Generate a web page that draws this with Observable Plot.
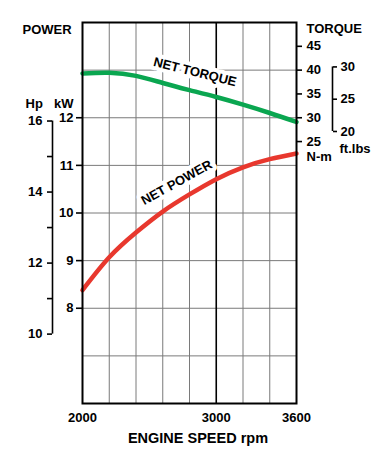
<!DOCTYPE html>
<html><head><meta charset="utf-8">
<script src="https://cdn.jsdelivr.net/npm/d3@7"></script>
<script src="https://cdn.jsdelivr.net/npm/@observablehq/plot@0.6"></script>
<style>
html,body{margin:0;padding:0;background:#fff;}
#chart svg{display:block;}
</style></head><body><div id="chart"></div>
<script>
// ---- data ----
const rpm = [2000, 2200, 2400, 2600, 2800, 3000, 3200, 3400, 3600];
const netPowerKW = [8.38, 9.07, 9.59, 10.03, 10.39, 10.71, 10.96, 11.13, 11.25];
const netTorqueNm = [39.3, 39.45, 38.8, 37.3, 35.8, 34.35, 32.75, 31.0, 29.1];

const xTicks = [2000, 3000, 3600];
const xGrid = [2200, 2400, 2600, 2800, 3200, 3400];
const xMajorGrid = [3000];
const yGridKW = [7, 8, 9, 10, 11, 12, 13];
const kwTicks = [8, 9, 10, 11, 12];
const hpTicks = [10, 11, 12, 13, 14, 15, 16];
const hpLabelled = [10, 12, 14, 16];
const nmTicks = [25, 30, 35, 40, 45];
const ftlbTicks = [20, 25, 30];

const curveLabels = ["NET TORQUE", "NET POWER"];
const curveLabelRpm = [2841, 2704];
const curveLabelKW = [12.96, 10.64];
const curveLabelAngle = [14, -29];

// ---- unit conversions (scale relations between the axes) ----
const KW_PER_HP = 0.7457;
const NM_PER_FTLB = 1.3558;
const nmToKw = t => 12 + (t - 30) / 10;
const kwToNm = k => 30 + (k - 12) * 10;

const rows = rpm.map((r, i) => ({rpm: r, kw: netPowerKW[i], tq: netTorqueNm[i]}));
const labels = curveLabels.map((t, i) => ({t, rpm: curveLabelRpm[i], kw: curveLabelKW[i], a: curveLabelAngle[i]}));

const FONT = "'Liberation Sans', Arial, Helvetica, sans-serif";
const txt = {fontSize: 13, fontWeight: "bold", fill: "#000"};
const halo = {stroke: "#fff", strokeWidth: 8, strokeLinejoin: "round", paintOrder: "stroke"};

const chart = Plot.plot({
  width: 380,
  height: 470,
  marginLeft: 82,
  marginRight: 84,
  marginTop: 22,
  marginBottom: 67,
  x: {domain: [2000, 3600]},
  y: {domain: [6, 14]},
  style: {fontFamily: FONT, fontWeight: "bold", color: "#000", background: "#fff", overflow: "visible"},
  marks: [
    Plot.ruleX(xGrid, {stroke: "#7a7a7a", strokeWidth: 1}),
    Plot.ruleY(yGridKW, {stroke: "#7a7a7a", strokeWidth: 1}),
    Plot.ruleX(xMajorGrid, {stroke: "#000", strokeWidth: 1.6}),

    // curve labels (knock out the grid behind them)
    Plot.text([labels[0]], {x: "rpm", y: "kw", text: "t", rotate: labels[0].a, ...txt, ...halo}),
    Plot.text([labels[1]], {x: "rpm", y: "kw", text: "t", rotate: labels[1].a, ...txt, ...halo}),

    Plot.line(rows, {x: "rpm", y: d => nmToKw(d.tq), stroke: "#0aa650", strokeWidth: 4.5, curve: "natural"}),
    Plot.line(rows, {x: "rpm", y: "kw", stroke: "#e8382e", strokeWidth: 4.5, curve: "natural"}),
    Plot.frame({stroke: "#000", strokeWidth: 2}),

    // x axis
    Plot.axisX(xTicks, {tickSize: 0, tickPadding: 9, label: null, tickFormat: d => String(d), ...txt}),
    // kW axis
    Plot.axisY(kwTicks, {anchor: "left", tickSize: 6, tickPadding: 3, strokeWidth: 1.6, label: null, ...txt}),
    // Hp axis
    Plot.axisY(hpTicks.map(h => h * KW_PER_HP), {
      anchor: "left", dx: -30, tickSize: 5, tickPadding: 5, strokeWidth: 1.6, label: null,
      tickFormat: d => { const h = Math.round(d / KW_PER_HP); return hpLabelled.includes(h) ? String(h) : ""; },
      ...txt
    }),
    Plot.ruleX([2000], {y1: hpTicks[0] * KW_PER_HP, y2: hpTicks[hpTicks.length - 1] * KW_PER_HP, dx: -30, stroke: "#000", strokeWidth: 1.6}),
    // Torque N-m axis
    Plot.axisY(nmTicks.map(nmToKw), {
      anchor: "right", tickSize: 5, tickPadding: 5, strokeWidth: 1.6, label: null,
      tickFormat: d => String(Math.round(kwToNm(d))), ...txt
    }),
    // Torque ft.lbs axis
    Plot.axisY(ftlbTicks.map(f => nmToKw(f * NM_PER_FTLB)), {
      anchor: "right", dx: 36, tickSize: 4, tickPadding: 4, strokeWidth: 1.6, label: null,
      tickFormat: d => String(Math.round(kwToNm(d) / NM_PER_FTLB)), ...txt
    }),
    Plot.ruleX([3600], {y1: nmToKw(ftlbTicks[0] * NM_PER_FTLB), y2: nmToKw(ftlbTicks[ftlbTicks.length - 1] * NM_PER_FTLB), dx: 36, stroke: "#000", strokeWidth: 1.6}),

    // axis titles
    Plot.text(["POWER"], {frameAnchor: "top-left", textAnchor: "start", lineAnchor: "bottom", dx: -60, dy: 11, ...txt}),
    Plot.text(["Hp"], {frameAnchor: "top-left", textAnchor: "start", lineAnchor: "bottom", dx: -57, dy: 85, ...txt}),
    Plot.text(["kW"], {frameAnchor: "top-left", textAnchor: "end", lineAnchor: "bottom", dx: -9, dy: 85, ...txt}),
    Plot.text(["TORQUE"], {frameAnchor: "top-right", textAnchor: "start", lineAnchor: "bottom", dx: 10, dy: 10, ...txt}),
    Plot.text(["N-m"], {frameAnchor: "top-right", textAnchor: "start", lineAnchor: "bottom", dx: 10, dy: 138, ...txt}),
    Plot.text(["ft.lbs"], {frameAnchor: "top-right", textAnchor: "start", lineAnchor: "bottom", dx: 43, dy: 130, ...txt}),
    Plot.text(["ENGINE SPEED rpm"], {frameAnchor: "bottom", textAnchor: "middle", lineAnchor: "bottom", dx: 8.5, dy: 39, ...txt, fontSize: 14.5})
  ]
});
document.getElementById("chart").appendChild(chart);
</script>
</body></html>
